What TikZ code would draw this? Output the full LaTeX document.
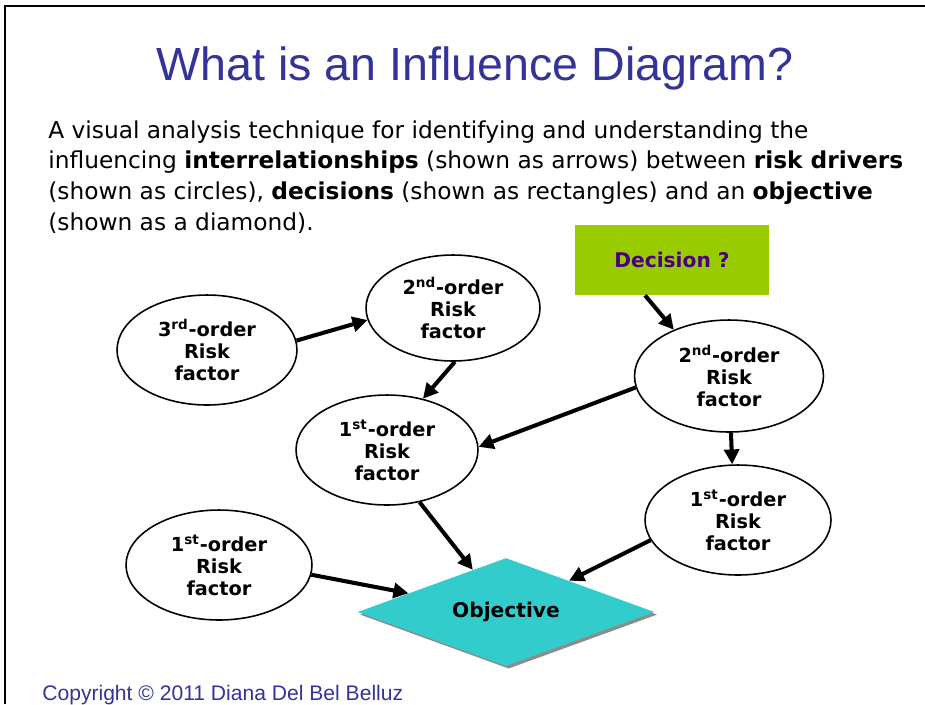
\documentclass[tikz,border=0pt]{standalone}
\usepackage{fontspec}
\setmainfont{DejaVu Sans}
\newfontfamily\arialfont{Liberation Sans}
\usetikzlibrary{shapes.geometric,arrows.meta,shadows}
\definecolor{titleblue}{RGB}{51,51,153}
\definecolor{decgreen}{RGB}{153,204,0}
\definecolor{decpurple}{RGB}{75,0,130}
\definecolor{objteal}{RGB}{51,204,204}
\begin{document}
\begin{tikzpicture}[x=0.02cm, y=-0.02cm,
        risk/.style={ellipse, draw=black, line width=0.9pt, fill=white, inner sep=0pt, align=center, font=\fontsize{11}{12.5}\selectfont\bfseries},
        decision/.style={rectangle, fill=decgreen, minimum width=3.9cm, minimum height=1.4cm, text=decpurple, font=\fontsize{11.5}{13}\selectfont\bfseries},
        objective/.style={diamond, aspect=2.75, fill=objteal, minimum width=5.94cm, minimum height=2.16cm, inner sep=0pt, font=\fontsize{11.5}{13}\selectfont\bfseries, drop shadow={shadow xshift=1.5pt, shadow yshift=-1.5pt, fill=black!45, opacity=1}},
        influence/.style={line width=2.3pt, -{Triangle[length=8.5pt,width=8.5pt]}}
    ]
        \useasboundingbox (0,0) rectangle (925,704);
        \draw[line width=1.5pt] (5,704) -- (5,6) -- (925,6);
        \node[text=titleblue, font=\arialfont\fontsize{26.5}{30}\selectfont, anchor=base] (title) at (475,80) {What is an Influence Diagram?};
        \node[anchor=north west, inner sep=0pt, align=left, font=\fontsize{13.25}{17.5}\selectfont] (intro) at (48,120) {A visual analysis technique for identifying and understanding the\\
            influencing \textbf{interrelationships} (shown as arrows) between \textbf{risk drivers}\\
            (shown as circles), \textbf{decisions} (shown as rectangles) and an \textbf{objective}\\
            (shown as a diamond).};
        \node[decision] (dec) at (672,260) {Decision ?};
        \node[risk, minimum width=3.6cm, minimum height=2.2cm] (third) at (207,350) {3\textsuperscript{rd}-order\\Risk\\factor};
        \node[risk, minimum width=3.48cm, minimum height=2.12cm] (secA) at (453,308) {2\textsuperscript{nd}-order\\Risk\\factor};
        \node[risk, minimum width=3.78cm, minimum height=2.24cm] (secB) at (729,376) {2\textsuperscript{nd}-order\\Risk\\factor};
        \node[risk, minimum width=3.64cm, minimum height=2.2cm] (firstA) at (387,450) {1\textsuperscript{st}-order\\Risk\\factor};
        \node[risk, minimum width=3.72cm, minimum height=2.2cm] (firstB) at (738,520) {1\textsuperscript{st}-order\\Risk\\factor};
        \node[risk, minimum width=3.72cm, minimum height=2.2cm] (firstC) at (219,565) {1\textsuperscript{st}-order\\Risk\\factor};
        \node[objective] (obj) at (506,612) {Objective};
        \node[text=titleblue, font=\arialfont\fontsize{12}{14}\selectfont, anchor=base west, inner sep=0pt] (copy) at (42,700) {Copyright © 2011 Diana Del Bel Belluz};
        \draw[influence] (third.6) -- (secA.188);
        \draw[influence] (secA.272) -- (firstA.55);
        \draw[influence] ([xshift=-0.54cm]dec.south) -- (secB.140);
        \draw[influence] (secB.187) -- (firstA.2);
        \draw[influence] (secB.272) -- (firstB.96);
        \draw[influence] (firstA.302) -- (obj);
        \draw[influence] (firstB.193) -- (obj);
        \draw[influence] (firstC.354) -- (obj);
\end{tikzpicture}
\end{document}
